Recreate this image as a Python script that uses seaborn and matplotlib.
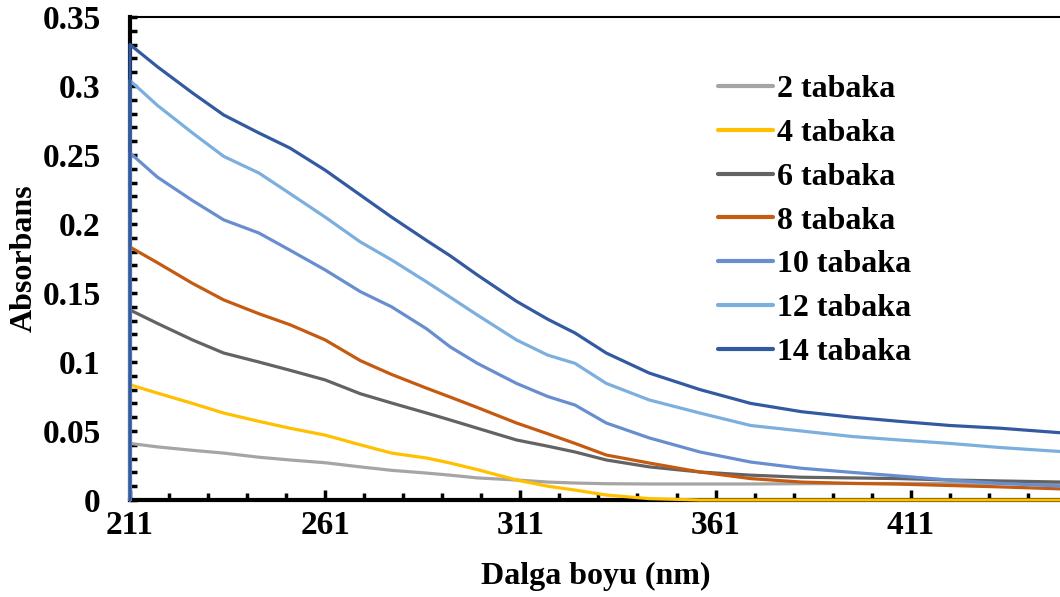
import numpy as np
import pandas as pd
import matplotlib
matplotlib.use("Agg")
import matplotlib.pyplot as plt
from matplotlib.ticker import MultipleLocator, FixedLocator, FuncFormatter
import seaborn as sns

# wavelength grid (nm); first two entries both at 211 (instrument start jump from 0)
wavelength = [211, 211, 218, 227, 235, 244, 252, 261, 270, 278, 287, 293, 300, 310,
              318, 325, 333, 344, 357, 370, 383, 396, 408, 421, 434, 450]

s2 = [0, 0.041, 0.0385, 0.036, 0.034, 0.031, 0.029, 0.027, 0.024, 0.0215, 0.0195, 0.018,
      0.016, 0.0145, 0.013, 0.0123, 0.0118, 0.0116, 0.0116, 0.0116, 0.0118, 0.012, 0.012,
      0.012, 0.012, 0.012]
s4 = [0, 0.0835, 0.0775, 0.070, 0.063, 0.057, 0.052, 0.047, 0.040, 0.034, 0.0304, 0.0268,
      0.022, 0.0145, 0.010, 0.0072, 0.0036, 0.001, 0, 0, 0, 0, 0, 0, 0, 0]
s6 = [0, 0.1377, 0.128, 0.116, 0.1065, 0.100, 0.094, 0.087, 0.077, 0.0703, 0.063, 0.058,
      0.052, 0.0435, 0.039, 0.0348, 0.029, 0.024, 0.0203, 0.018, 0.0165, 0.016, 0.0155,
      0.0145, 0.0138, 0.013]
s8 = [0, 0.1833, 0.172, 0.157, 0.145, 0.135, 0.127, 0.116, 0.101, 0.091, 0.081, 0.0746,
      0.067, 0.0558, 0.048, 0.041, 0.0326, 0.0268, 0.0203, 0.0155, 0.013, 0.012, 0.0115,
      0.0105, 0.0095, 0.008]
s10 = [0, 0.2515, 0.234, 0.217, 0.203, 0.1935, 0.181, 0.1667, 0.151, 0.140, 0.124, 0.111,
       0.099, 0.0845, 0.075, 0.0688, 0.0558, 0.045, 0.0348, 0.0275, 0.023, 0.020, 0.0174,
       0.0145, 0.012, 0.010]
s12 = [0, 0.304, 0.286, 0.266, 0.249, 0.237, 0.222, 0.205, 0.187, 0.174, 0.158, 0.147,
       0.134, 0.116, 0.105, 0.099, 0.0845, 0.0725, 0.063, 0.054, 0.050, 0.046, 0.0435,
       0.041, 0.038, 0.035]
s14 = [0, 0.330, 0.314, 0.295, 0.279, 0.266, 0.255, 0.239, 0.221, 0.205, 0.188, 0.177,
       0.163, 0.144, 0.131, 0.121, 0.1065, 0.092, 0.080, 0.070, 0.064, 0.060, 0.057,
       0.054, 0.052, 0.0486]

labels = ["2 tabaka", "4 tabaka", "6 tabaka", "8 tabaka", "10 tabaka", "12 tabaka", "14 tabaka"]
colors = ["#A5A5A5", "#FFC000", "#636363", "#C55A11", "#698ED0", "#7CAFDD", "#335AA1"]
series = [s2, s4, s6, s8, s10, s12, s14]

x_ticks = [211, 261, 311, 361, 411]
y_ticks = [0, 0.05, 0.1, 0.15, 0.2, 0.25, 0.3, 0.35]

rows = []
for lab, vals in zip(labels, series):
    for w, v in zip(wavelength, vals):
        rows.append({"wl": w, "abs": v, "seri": lab})
df = pd.DataFrame(rows)

sns.set_theme(style="white")
plt.rcParams["font.family"] = ["Liberation Serif", "DejaVu Serif"]
plt.rcParams["font.weight"] = "bold"
for k in ["text.color", "axes.labelcolor", "xtick.color", "ytick.color"]:
    plt.rcParams[k] = "black"

fig = plt.figure(figsize=(10.6, 5.97), dpi=100)
ax = fig.add_axes([130 / 1060, 1 - 500 / 597, 1 - 130 / 1060 + 0.001, (500 - 17) / 597])

sns.lineplot(data=df, x="wl", y="abs", hue="seri", hue_order=labels,
             palette=dict(zip(labels, colors)), estimator=None, sort=False,
             units="seri", linewidth=2.3, ax=ax, zorder=3, clip_on=False)
for ln in ax.get_lines():
    ln.set_solid_joinstyle("round")

ax.set_xlim(211, 449.5)
ax.set_ylim(0, 0.35)

ax.xaxis.set_major_locator(FixedLocator(x_ticks))
ax.xaxis.set_minor_locator(FixedLocator(list(range(221, 450, 10))))
ax.yaxis.set_major_locator(FixedLocator(y_ticks))
ax.yaxis.set_minor_locator(MultipleLocator(0.01))
ax.yaxis.set_major_formatter(FuncFormatter(lambda v, p: ("%g" % round(v, 2))))

ax.tick_params(axis="both", which="both", direction="in", colors="black",
               labelsize=24, width=2.5, bottom=True, left=True, top=False, right=False)
ax.tick_params(axis="x", which="major", length=7, pad=7)
ax.tick_params(axis="x", which="minor", length=5)
ax.tick_params(axis="y", which="major", length=5, pad=21)
ax.tick_params(axis="y", which="minor", length=5)
for lab in ax.get_xticklabels() + ax.get_yticklabels():
    lab.set_fontweight("bold")

for side in ["left", "bottom"]:
    ax.spines[side].set_color("black")
    ax.spines[side].set_linewidth(3)
ax.spines["top"].set_color("black")
ax.spines["top"].set_linewidth(1.5)
ax.spines["right"].set_visible(False)

ax.set_xlabel("Dalga boyu (nm)", fontsize=23, fontweight="bold", labelpad=15)
ax.set_ylabel("Absorbans", fontsize=23, fontweight="bold", labelpad=3)

handles, lbls = ax.get_legend_handles_labels()
leg = ax.legend(handles, lbls, loc="upper left", bbox_to_anchor=(0.632, 0.880),
                frameon=False, fontsize=23, handlelength=1.7, handletextpad=0.12,
                labelspacing=0.45, borderaxespad=0, borderpad=0)
for t in leg.get_texts():
    t.set_fontweight("bold")
for h in leg.get_lines():
    h.set_linewidth(3)

fig.savefig("out.png", dpi=100)
